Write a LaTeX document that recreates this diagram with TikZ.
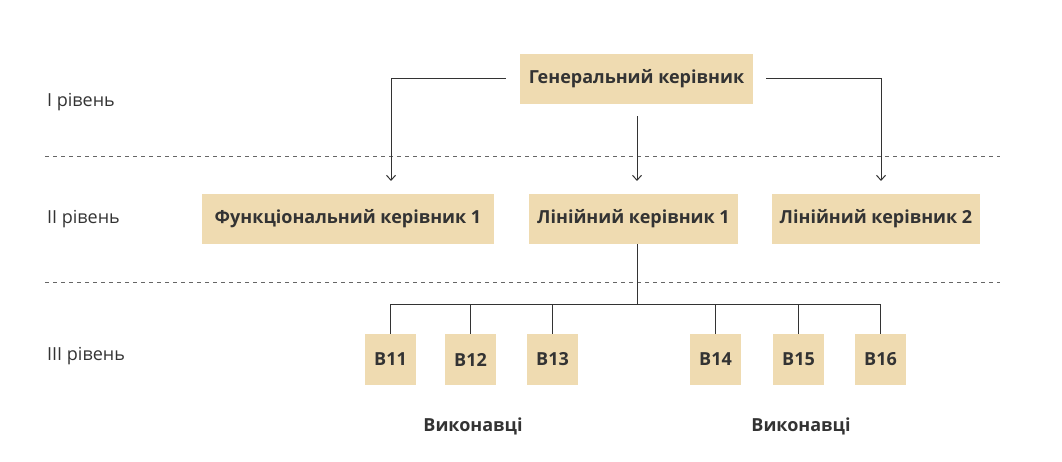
\documentclass[tikz,border=0pt]{standalone}
\usepackage{fontspec}
\setmainfont{Open Sans}
\usetikzlibrary{arrows.meta}
\definecolor{boxfill}{HTML}{EFDBB1}
\definecolor{ink}{HTML}{333333}
\definecolor{dashc}{HTML}{666666}
\tikzset{
  box/.style={fill=boxfill, draw=none, inner sep=0pt, text=ink, font=\fontsize{18}{20}\selectfont\bfseries, minimum height=50pt},
  sbox/.style={box, minimum width=51pt, minimum height=51pt},
  lvl/.style={anchor=west, text=ink, font=\fontsize{18}{20}\selectfont, inner sep=0pt},
  lab/.style={text=ink, font=\fontsize{18}{20}\selectfont\bfseries, inner sep=0pt},
  conn/.style={draw=ink, line width=1pt},
  arr/.style={conn, -{Straight Barb[length=5pt,width=9pt]}},
  sep/.style={draw=dashc, line width=0.9pt, dash pattern=on 4pt off 4pt}
}
\begin{document}
\begin{tikzpicture}[x=1pt,y=-1pt]
\useasboundingbox (0,0) rectangle (1062,462);
% separators
\coordinate (s1a) at (45,156); \coordinate (s1b) at (1000,156);
\coordinate (s2a) at (45,282); \coordinate (s2b) at (1000,282);
\draw[sep] (s1a) -- (s1b);
\draw[sep] (s2a) -- (s2b);
% level labels
\node[lvl] (l1) at (47,102) {I рівень};
\node[lvl] (l2) at (47,219) {II рівень};
\node[lvl] (l3) at (47,356) {III рівень};
% boxes
\node[box, minimum width=233pt] (gen) at (636.5,79) {Генеральний керівник};
\node[box, minimum width=292pt] (func) at (348,219) {Функціональний керівник 1};
\node[box, minimum width=209pt] (lin1) at (633.5,219) {Лінійний керівник 1};
\node[box, minimum width=208pt] (lin2) at (876,219) {Лінійний керівник 2};
\node[sbox] (b11) at (390.5,359.5) {В11};
\node[sbox] (b12) at (470.5,359.5) {В12};
\node[sbox] (b13) at (552.5,359.5) {В13};
\node[sbox] (b14) at (715.5,359.5) {В14};
\node[sbox] (b15) at (798.5,359.5) {В15};
\node[sbox] (b16) at (880.5,359.5) {В16};
\node[lab] (v1) at (473,426) {Виконавці};
\node[lab] (v2) at (801,426) {Виконавці};
% arrows from general manager
\coordinate (a1) at (391,181);
\coordinate (a2) at (637,181);
\coordinate (a3) at (881,181);
\draw[arr] ([xshift=-14pt]gen.west) -| (a1);
\draw[arr] ([yshift=-12pt]gen.south -| a2) -- (a2);
\draw[arr] ([xshift=13pt]gen.east) -| (a3);
% tree to executors
\coordinate (j) at (637,304);
\draw[conn] (j |- lin1.south) -- (j);
\draw[conn] (b11.north) |- (j);
\draw[conn] (b12.north) |- (j);
\draw[conn] (b13.north) |- (j);
\draw[conn] (b14.north) |- (j);
\draw[conn] (b15.north) |- (j);
\draw[conn] (b16.north) |- (j);
\end{tikzpicture}
\end{document}
